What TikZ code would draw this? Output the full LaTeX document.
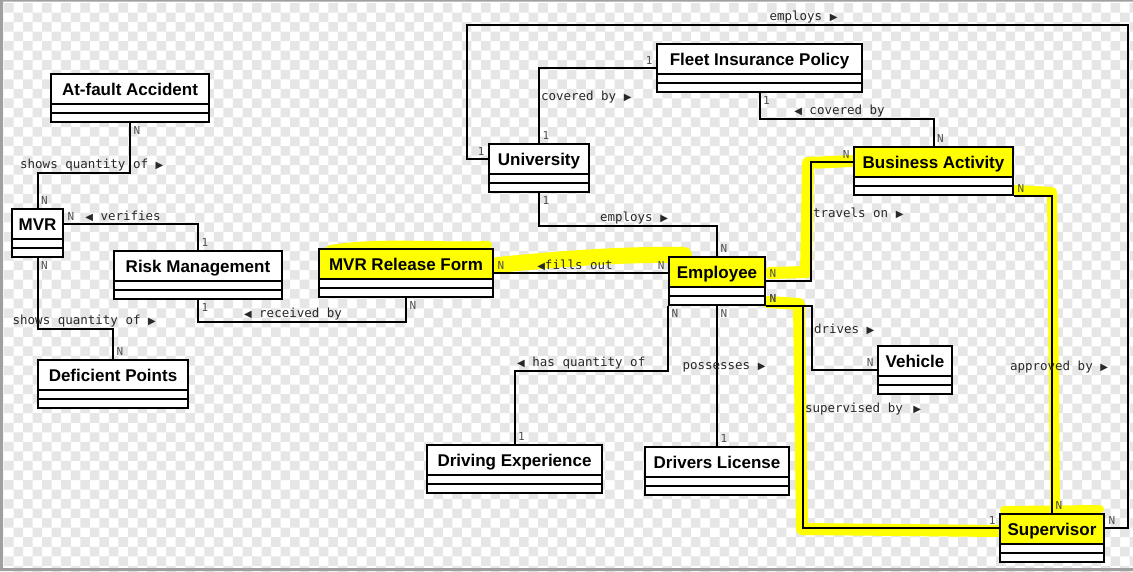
\documentclass[tikz,border=0pt]{standalone}
\usepackage{fontspec}
\setmainfont{Liberation Sans}
\setmonofont{DejaVu Sans Mono}
\newfontfamily\tripfont{DejaVu Sans}
\newcommand\fwd{{\tripfont\fontsize{10}{10}\selectfont ▶}}
\newcommand\bwd{{\tripfont\fontsize{10}{10}\selectfont ◀}}
\definecolor{hl}{RGB}{255,255,0}
\definecolor{checker}{RGB}{230,230,230}
\definecolor{frame}{RGB}{160,160,160}
\definecolor{relgray}{RGB}{40,40,40}
\definecolor{multgray}{RGB}{80,80,80}
\pgfdeclarelayer{bg}
\pgfdeclarelayer{marks}
\pgfsetlayers{bg,marks,main}
% the two empty compartments of a class box
\newcommand\compartments{%
  \draw[line width=2pt] ([yshift=18pt]path picture bounding box.south west) -- ([yshift=18pt]path picture bounding box.south east)
    ([yshift=9pt]path picture bounding box.south west) -- ([yshift=9pt]path picture bounding box.south east);}
\tikzset{
  umlclass/.style={draw, line width=2pt, fill=white, inner xsep=2pt, inner ysep=0pt,
    minimum height=48pt, text height=21.5pt, text depth=26.5pt,
    font=\bfseries\fontsize{17}{18}\selectfont, path picture={\compartments}},
  plainbox/.style={},
  marked/.style={path picture={\fill[hl] (path picture bounding box.north west) rectangle ([yshift=18pt]path picture bounding box.south east); \compartments}},
  assoc/.style={line width=2pt},
  rel/.style={font=\ttfamily\fontsize{12.5}{14}\selectfont, text=relgray, inner sep=1pt},
  mult/.style={font=\ttfamily\fontsize{11}{12}\selectfont, text=multgray, inner sep=2.5pt},
  hilite/.style={draw=hl, line width=12pt, line cap=round, line join=round}
}
\begin{document}
\begin{tikzpicture}[x=1pt, y=-1pt]
  \useasboundingbox (0,0) rectangle (1133,571);
  \begin{pgfonlayer}{bg}
    \fill[white] (0,0) rectangle (1133,571);
    \foreach \i in {0,...,59} \foreach \k in {0,...,29} {
      \fill[checker] ({4+2*\i*9.54},{3+2*\k*9.54}) rectangle ++(9.54,9.54)
        ({4+(2*\i+1)*9.54},{3+(2*\k+1)*9.54}) rectangle ++(9.54,9.54);
    }
    \fill[frame] (0,0) rectangle (3,571) (0,0) rectangle (1133,1.5) (0,568) rectangle (1133,571);
  \end{pgfonlayer}

  \def\classes {acc/130/98/158/plainbox/At-fault Accident, mvr/37.5/233/51/plainbox/MVR,
    risk/198/275/168/plainbox/Risk Management, defp/113/384/150/plainbox/Deficient Points,
    mrf/406/273/174/marked/MVR Release Form, emp/717/281/96/marked/Employee,
    busact/933.5/171/159/marked/Business Activity, veh/915/370/74/plainbox/Vehicle,
    sup/1052/538/104/marked/Supervisor, uni/539/168/100/plainbox/University,
    fip/759.5/68/205/plainbox/Fleet Insurance Policy, drexp/514.5/469/175/plainbox/Driving Experience,
    lic/717/471/144/plainbox/Drivers License}  % list elements
  \foreach \name/\x/\y/\w/\look/\title in \classes
  {	\node[umlclass, \look, minimum width=\w pt] (\name) at (\x,\y) {\title};
  }
  \coordinate (topright) at (1128,25);
  \coordinate (topleft) at (467,25);

  \begin{pgfonlayer}{marks}
    \draw[hilite, line width=8pt] (330,249) .. controls (380,241) and (440,247) .. (488,245);
    \draw[hilite, line width=16pt] (497,265) .. controls (560,259) and (620,254) .. (684,255);
    \draw[hilite] (770,273) -- (806,272) -- (808,163) -- (852,161);
    \draw[hilite, line width=10pt] (1016,190) -- (1052,192) -- (1055,508);
    \draw[hilite] (768,302) -- (799,304) -- (802,529) -- (1000,531);
    \draw[hilite, line width=8pt] (1004,510) -- (1100,509);
  \end{pgfonlayer}

  \draw[assoc] (acc.south) node[mult, below right] {N} -- ++(0,50)
    -| node[rel, above, pos=0.25, xshift=8pt] {shows quantity of \fwd} (mvr.north) node[mult, above right] {N};
  \draw[assoc] ([yshift=9pt]mvr.east) node[mult, above right] {N}
    -| node[rel, above, pos=0.25, xshift=-8pt] {\bwd{} verifies} (risk.north) node[mult, above right] {1};
  \draw[assoc] (mvr.south) node[mult, below right] {N} -- ++(0,71)
    -| node[rel, above, pos=0.25, xshift=9pt] {shows quantity of \fwd} (defp.north) node[mult, above right] {N};
  \draw[assoc] (risk.south) node[mult, below right] {1} -- ++(0,22)
    -| node[rel, above, pos=0.25, xshift=-9pt] {\bwd{} received by} (mrf.south) node[mult, below right] {N};
  \draw[assoc] (mrf.east) node[mult, above right] {N}
    -- node[rel, above, xshift=-6pt] {\bwd fills out} (mrf.east -| emp.west) node[mult, above left] {N};
  \draw[assoc] (uni.south) node[mult, below right] {1} -- ++(0,33)
    -| node[rel, above, pos=0.25, xshift=6pt] {employs \fwd} (emp.north) node[mult, above right] {N};
  \draw[assoc] (uni.north) node[mult, above right] {1}
    |- node[rel, right, pos=0.25, yshift=8pt] {covered by \fwd} (fip.west) node[mult, above left] {1};
  \draw[assoc] (fip.south) node[mult, below right] {1} -- ++(0,26)
    -| node[rel, above, pos=0.25, xshift=-7pt] {\bwd{} covered by} (busact.north) node[mult, above right] {N};
  \draw[assoc] (emp.east) node[mult, above right] {N} -- ++(45,0)
    |- node[rel, right, pos=0.25, yshift=8pt] {travels on \fwd} ([yshift=9pt]busact.west) node[mult, above left] {N};
  \draw[assoc] (emp.south east) node[mult, above right] {N} -- ++(46,0)
    |- node[rel, right, pos=0.25, yshift=9pt] {drives \fwd} (veh.west) node[mult, above left] {N};
  \draw[assoc] (emp.south east) node[mult, above right] {N} -- ++(37,0)
    |- node[rel, right, pos=0.25, yshift=8pt] {supervised by\hspace{3pt} \fwd} ([yshift=10pt]sup.west) node[mult, above left] {1};
  \draw[assoc] (busact.south east) node[mult, above right] {N}
    -| node[rel, pos=0.77, xshift=7pt] {approved by \fwd} (sup.north) node[mult, above right] {N};
  \draw[assoc] ([yshift=10pt]sup.east) node[mult, above right] {N} -| (topright)
    -- node[rel, above, xshift=6pt] {employs \fwd} (topleft) |- ([yshift=9pt]uni.west) node[mult, above left] {1};
  \draw[assoc] (emp.south west) node[mult, below right] {N} -- ++(0,65)
    -| node[rel, above, pos=0.25, xshift=-10pt] {\bwd{} has quantity of} (drexp.north) node[mult, above right] {1};
  \draw[assoc] (emp.south) node[mult, below right] {N}
    -- node[rel, xshift=7pt, yshift=9pt] {possesses \fwd} (lic.north) node[mult, above right] {1};
\end{tikzpicture}
\end{document}
